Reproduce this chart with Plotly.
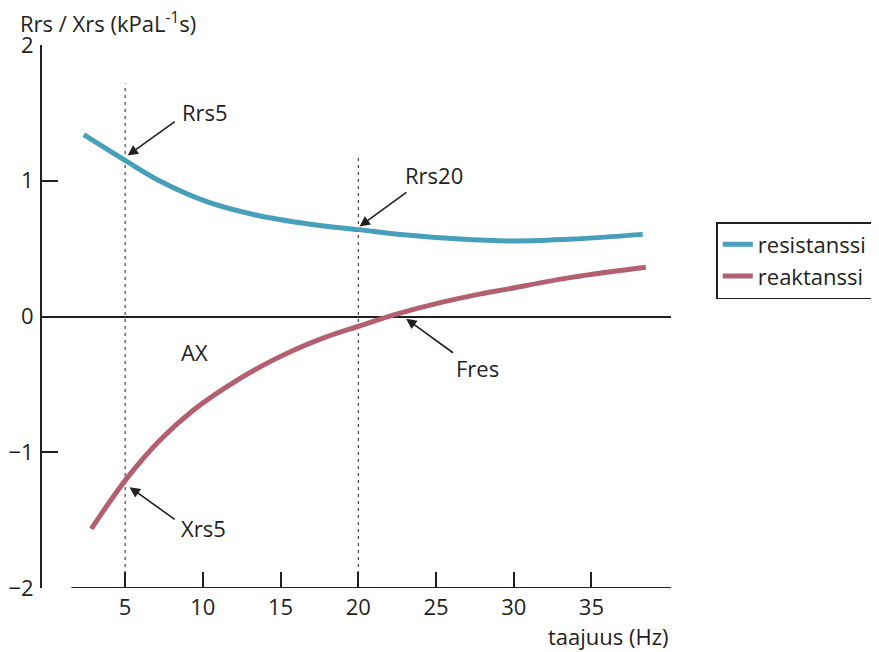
import plotly.graph_objects as go

# Data
freq_r = [2.34, 5.0, 7.2, 10.4, 13.7, 16.9, 20.0, 23.1, 26.3, 29.9, 33.8, 38.3]
rrs = [1.34, 1.15, 1.00, 0.84, 0.74, 0.68, 0.64, 0.60, 0.572, 0.556, 0.57, 0.605]

freq_x = [2.82, 5.08, 7.22, 9.36, 11.5, 13.65, 15.8, 17.9, 20.08, 22.4, 25.2, 27.8, 29.5, 33.8, 38.5]
xrs = [-1.564, -1.196, -0.913, -0.692, -0.52, -0.373, -0.25, -0.152, -0.07, 0.015, 0.10, 0.165, 0.20, 0.29, 0.363]

x_ticks = [5, 10, 15, 20, 25, 30, 35]
y_ticks = [-2, -1, 0, 1, 2]

series_names = ["resistanssi", "reaktanssi"]
series_colors = ["#479fb9", "#b45f70"]

marker_freqs = [5, 20]
marker_tops = [1.716, 1.17]

FONT = "Open Sans"
INK = "#231f20"
FS = 22

fig = go.Figure()
fig.add_trace(go.Scatter(x=freq_r, y=rrs, mode="lines", name=series_names[0],
                         line=dict(color=series_colors[0], width=5, shape="spline")))
fig.add_trace(go.Scatter(x=freq_x, y=xrs, mode="lines", name=series_names[1],
                         line=dict(color=series_colors[1], width=5, shape="spline")))

shapes = []
for f, top in zip(marker_freqs, marker_tops):
    shapes.append(dict(type="line", xref="x", yref="y", x0=f, x1=f, y0=-2, y1=top,
                       line=dict(color=INK, width=1, dash="3px,4px"), layer="below"))
# x-axis line (starts to the right of the y-axis)
shapes.append(dict(type="line", xref="x", yref="y", x0=1.54, x1=40.12, y0=-2, y1=-2,
                   line=dict(color=INK, width=2)))

annotations = []
arrows = [
    # (head_x, head_y, tail_x, tail_y)
    (5.16, 1.186, 8.29, 1.444),
    (20.08, 0.663, 23.19, 0.923),
    (5.29, -1.257, 8.29, -1.503),
    (23.08, -0.017, 26.19, -0.275),
]
for hx, hy, tx, ty in arrows:
    annotations.append(dict(x=hx, y=hy, ax=tx, ay=ty, xref="x", yref="y",
                            axref="x", ayref="y", text="", showarrow=True,
                            arrowhead=2, arrowsize=1.3, arrowwidth=1.6, arrowcolor=INK))
labels = [
    ("Rrs5", 10.11, 1.51),
    ("Rrs20", 24.9, 1.046),
    ("Xrs5", 10.05, -1.558),
    ("Fres", 27.67, -0.379),
    ("AX", 9.47, -0.258),
]
for t, x, y in labels:
    annotations.append(dict(x=x, y=y, xref="x", yref="y", text=t, showarrow=False,
                            font=dict(family=FONT, size=FS, color=INK)))

annotations.append(dict(x=-0.038, y=1.042, xref="paper", yref="paper",
                        text="Rrs / Xrs (kPaL<sup>-1</sup>s)", showarrow=False,
                        xanchor="left", yanchor="middle",
                        font=dict(family=FONT, size=FS, color=INK)))
annotations.append(dict(x=1.0, y=-0.088, xref="paper", yref="paper",
                        text="taajuus (Hz)", showarrow=False,
                        xanchor="right", yanchor="middle",
                        font=dict(family=FONT, size=FS, color=INK)))

# page body has an 8px margin: figure drawn at (8, 8)
fig.update_layout(
    width=871, height=644,
    margin=dict(l=34, r=208, t=37, b=64, autoexpand=False),
    paper_bgcolor="white", plot_bgcolor="white",
    font=dict(family=FONT, size=FS, color=INK),
    showlegend=True,
    legend=dict(x=1.072, y=0.674, xanchor="left", yanchor="top",
                bordercolor=INK, borderwidth=1.5, bgcolor="white",
                font=dict(family=FONT, size=FS, color=INK),
                tracegroupgap=0),
    xaxis=dict(range=[-0.35, 40.12], tickvals=x_ticks, ticks="inside", ticklen=16,
               tickwidth=2, tickcolor=INK, showline=False, showgrid=False,
               zeroline=False, tickfont=dict(size=FS), automargin=False,
               ticklabelstandoff=4),
    yaxis=dict(range=[-2, 2], tickvals=y_ticks, ticks="inside", ticklen=16,
               tickwidth=2, tickcolor=INK, showline=True, linecolor=INK, linewidth=2,
               showgrid=False, zeroline=True, zerolinecolor=INK, zerolinewidth=1.5,
               tickfont=dict(size=FS), automargin=False, ticklabelstandoff=2),
    shapes=shapes,
    annotations=annotations,
)

fig.write_html("out.html")
